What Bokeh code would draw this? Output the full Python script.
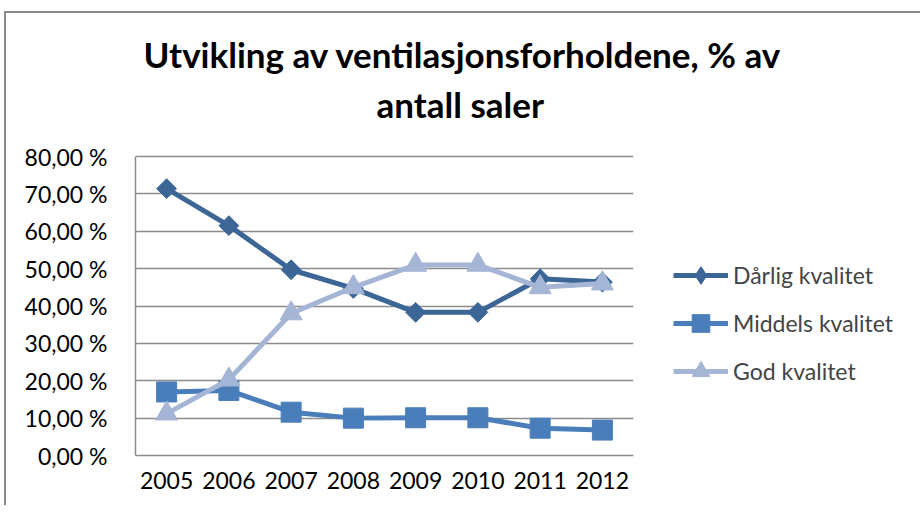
from bokeh.plotting import figure
from bokeh.models import Legend, LegendItem, Title, FactorRange, FixedTicker
from bokeh.embed import file_html
from bokeh.resources import INLINE
import math

years = ["2005", "2006", "2007", "2008", "2009", "2010", "2011", "2012"]
darlig = [71.4, 61.5, 49.7, 44.7, 38.3, 38.3, 47.3, 46.4]
middels = [17.0, 17.4, 11.6, 10.0, 10.1, 10.1, 7.3, 6.8]
god = [11.2, 20.3, 38.0, 45.0, 51.0, 51.0, 45.0, 46.0]
y_ticks = [0, 10, 20, 30, 40, 50, 60, 70, 80]
y_tick_labels = ["0,00 %", "10,00 %", "20,00 %", "30,00 %", "40,00 %", "50,00 %", "60,00 %", "70,00 %", "80,00 %"]
names = ["Dårlig kvalitet", "Middels kvalitet", "God kvalitet"]
title_lines = ["Utvikling av ventilasjonsforholdene, % av", "antall saler"]

FONT = "Lato"
FRAME_W, FRAME_H = 498, 331
Y_TOP = y_ticks[-1] * FRAME_H / 299.0  # extra headroom above the top gridline

p = figure(x_range=FactorRange(*years, range_padding=0), y_range=(0, Y_TOP),
           frame_width=FRAME_W, frame_height=FRAME_H,
           output_backend="svg", toolbar_location=None,
           min_border_left=129, min_border_right=0, min_border_top=111, min_border_bottom=50)
p.styles = {"border-left": "2px solid #8a8a8a", "border-top": "2px solid #8a8a8a",
            "margin-left": "4px", "margin-top": "11px"}
p.outline_line_color = None
p.background_fill_color = "white"

p.xgrid.grid_line_color = None
p.ygrid.grid_line_color = "#8c8c8c"
p.ygrid.grid_line_width = 1.5
p.yaxis.ticker = FixedTicker(ticks=y_ticks)
p.yaxis.bounds = (y_ticks[0], y_ticks[-1])
p.yaxis.major_label_overrides = {t: l for t, l in zip(y_ticks, y_tick_labels)}
for ax in (p.xaxis, p.yaxis):
    ax.axis_line_color = "#8c8c8c"
    ax.axis_line_width = 1.5
    ax.major_tick_line_color = None
    ax.minor_tick_line_color = None
    ax.major_label_text_font = FONT
    ax.major_label_text_font_size = "23px"
    ax.major_label_text_color = "black"
p.xaxis.major_label_standoff = 10
p.yaxis.major_label_standoff = 22

c1, c2, c3 = "#3c6696", "#4a7ebb", "#a5b5d5"
LW = 5
l1 = p.line(years, darlig, line_color=c1, line_width=LW)
# diamond glyph (hidden under the rotated squares) that provides the legend swatch
m1_key = p.scatter(years, darlig, marker="diamond", size=14, fill_color=c1, line_color=c1)
m1 = p.scatter(years, darlig, marker="square", angle=math.pi / 4, size=14, fill_color=c1, line_color=c1)
l2 = p.line(years, middels, line_color=c2, line_width=LW)
m2 = p.scatter(years, middels, marker="square", size=20, fill_color=c2, line_color=c2)
l3 = p.line(years, god, line_color=c3, line_width=LW)
m3 = p.scatter(years, god, marker="triangle", size=22, fill_color=c3, line_color=c3)

legend = Legend(items=[LegendItem(label=names[0], renderers=[l1, m1_key]),
                       LegendItem(label=names[1], renderers=[l2, m2]),
                       LegendItem(label=names[2], renderers=[l3, m3])],
                location=(40, 62), padding=0, margin=0, spacing=4,
                glyph_width=55, glyph_height=44, label_standoff=5,
                label_text_font=FONT, label_text_font_size="23px",
                border_line_color=None, background_fill_alpha=0)
p.add_layout(legend, "right")

t2 = Title(text=title_lines[1], align="left", offset=241, standoff=0,
           text_font=FONT, text_font_style="bold", text_font_size="35px", text_color="black")
t1 = Title(text=title_lines[0], align="left", offset=8, standoff=12,
           text_font=FONT, text_font_style="bold", text_font_size="35px", text_color="black")
p.add_layout(t2, "above")
p.add_layout(t1, "above")

open("out.html", "w").write(file_html(p, INLINE))
